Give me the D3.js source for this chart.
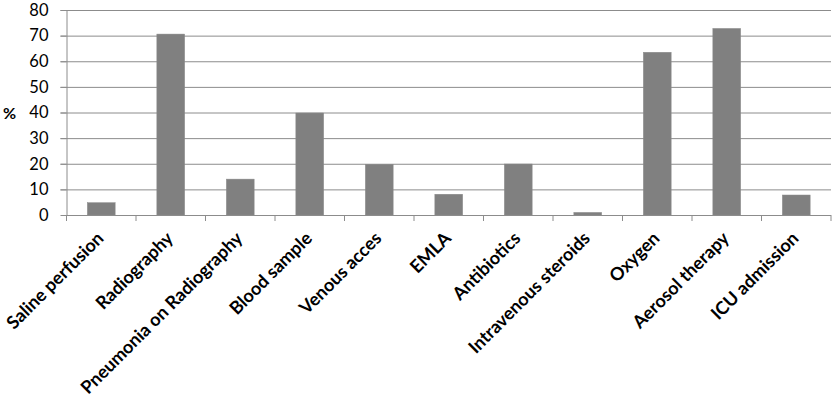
<!DOCTYPE html>
<html><head><meta charset="utf-8">
<script src="https://cdn.jsdelivr.net/npm/d3@7"></script>
<style>body{margin:0;background:#fff}svg{display:block}</style>
</head><body>
<svg id="c" width="833" height="403"></svg>
<script>
const categories = ["Saline perfusion","Radiography","Pneumonia on Radiography","Blood sample","Venous acces","EMLA","Antibiotics","Intravenous steroids","Oxygen","Aerosol therapy","ICU admission"];
const values = [4.8,70.6,14,39.8,19.8,8.1,19.9,1,63.5,72.8,7.8];
const yTicks = [0,10,20,30,40,50,60,70,80];
const yLabel = "%";

const svg = d3.select("#c");
const L = 66.5, R = 831, T = 10, B = 215;
const x = d3.scaleBand().domain(categories).range([L,R]).paddingInner(0.6).paddingOuter(0.3);
const y = d3.scaleLinear().domain([0,80]).range([B,T]);
const step = x.step();
const font = "Lato, 'Open Sans', sans-serif";

// gridlines
svg.append("g").selectAll("line").data(yTicks.slice(1)).join("line")
  .attr("x1",L-6).attr("x2",R).attr("y1",d=>y(d)+0.5).attr("y2",d=>y(d)+0.5)
  .attr("stroke","#8c8c8c").attr("stroke-width",1);

// y axis
const ya = svg.append("g").attr("transform",`translate(${L},0)`)
  .call(d3.axisLeft(y).tickValues(yTicks).tickSize(6).tickPadding(12).tickSizeOuter(0));
ya.select(".domain").attr("stroke","#8c8c8c");
ya.selectAll(".tick line").attr("stroke","#8c8c8c");
ya.selectAll(".tick text").attr("font-family",font).attr("font-size",16.5).attr("fill","#000");

svg.append("text").attr("x",3).attr("y",y(40)+1).attr("dy","0.35em")
  .attr("font-family",font).attr("font-size",16).attr("font-weight","bold").text(yLabel);

// bars
svg.append("g").selectAll("rect").data(values).join("rect")
  .attr("x",(d,i)=>x(categories[i])).attr("width",x.bandwidth())
  .attr("y",d=>y(d)).attr("height",d=>y(0)-y(d))
  .attr("fill","#808080").attr("stroke","#8a8a8a").attr("stroke-width",0.5);

// x axis line
svg.append("line").attr("x1",L).attr("x2",R).attr("y1",B+0.5).attr("y2",B+0.5).attr("stroke","#8c8c8c");
// boundary ticks
const bounds = categories.map(c=>x(c)-(step-x.bandwidth())/2).concat([R]);
svg.append("g").selectAll("line").data(bounds).join("line")
  .attr("x1",d=>d).attr("x2",d=>d).attr("y1",B).attr("y2",B+6).attr("stroke","#8c8c8c");

// x labels
svg.append("g").selectAll("text").data(categories).join("text")
  .attr("transform",d=>`translate(${x(d)+x.bandwidth()/2-1},${B+20}) rotate(-45)`)
  .attr("text-anchor","end").attr("dy","0.35em")
  .attr("font-family",font).attr("font-size",18).attr("font-weight","bold").attr("fill","#000")
  .text(d=>d);
</script>
</body></html>
